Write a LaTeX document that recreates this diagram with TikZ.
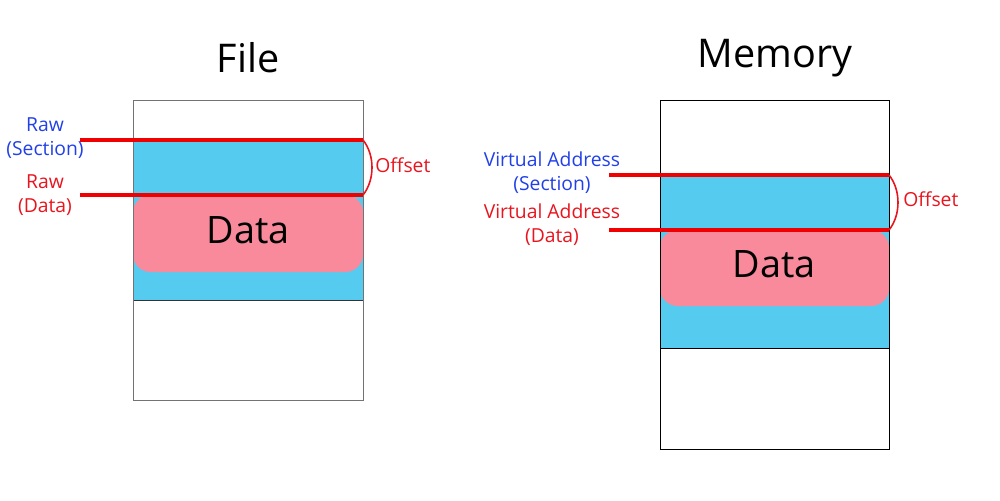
\documentclass[tikz,border=0pt]{standalone}
\usepackage{fontspec}
\setmainfont{Open Sans}
\definecolor{secblue}{HTML}{56CBF0}
\definecolor{datapink}{HTML}{F98A9C}
\definecolor{lblblue}{HTML}{2140E8}
\definecolor{lblred}{HTML}{E8141E}
\definecolor{linered}{HTML}{F00000}
\begin{document}
\begin{tikzpicture}[x=0.02cm,y=-0.02cm,
  title/.style={font=\fontsize{22.5}{26}\selectfont, inner sep=0pt},
  datatext/.style={font=\fontsize{21.5}{25}\selectfont, inner sep=0pt},
  lbl/.style={font=\fontsize{11}{13.6}\selectfont, inner sep=0pt, align=center},
  redline/.style={linered, line width=1.8pt},
  brace/.style={lblred, line width=0.9pt},
  frame/.style={line width=0.55pt}]
\useasboundingbox (0,0) rectangle (1000,500);
% ---------- File ----------
\node[title] (tfile) at (248,58) {File};
\fill[secblue] (133,140) rectangle (363,300);
\fill[datapink, rounded corners=10pt] (133,195) rectangle (363,272);
\node[datatext] (dfile) at (248,230) {Data};
\draw[frame, black!80] (133,300) -- (363,300);
\draw[frame, black!55] (133,100) rectangle (363,400);
\coordinate (fs1) at (80,140); \coordinate (fs2) at (363,140);
\coordinate (fd1) at (80,195); \coordinate (fd2) at (363,195);
\draw[redline] (fs1) -- (fs2);
\draw[redline] (fd1) -- (fd2);
\draw[brace] (fs2) .. controls (375,155) and (375,180) .. (fd2);
\node[lbl, text=lblred, anchor=west] (foff) at (375,165) {Offset};
\node[lbl, text=lblblue] (fsec) at (45,138) {Raw\\(Section)};
\node[lbl, text=lblred] (fdat) at (45,195) {Raw\\(Data)};
% ---------- Memory ----------
\node[title] (tmem) at (775,58) {Memory};
\fill[secblue] (660,175) rectangle (889,348);
\fill[datapink, rounded corners=10pt] (660,230) rectangle (889,306);
\node[datatext] (dmem) at (774,264) {Data};
\draw[frame, black] (660,348) -- (889,348);
\draw[frame, black] (660,100) rectangle (889,449);
\coordinate (ms1) at (609,175); \coordinate (ms2) at (889,175);
\coordinate (md1) at (609,230); \coordinate (md2) at (889,230);
\draw[redline] (ms1) -- (ms2);
\draw[redline] (md1) -- (md2);
\draw[brace] (ms2) .. controls (901,190) and (901,215) .. (md2);
\node[lbl, text=lblred, anchor=west] (moff) at (903,199) {Offset};
\node[lbl, text=lblblue] (msec) at (552,173) {Virtual Address\\(Section)};
\node[lbl, text=lblred] (mdat) at (552,225) {Virtual Address\\(Data)};
\end{tikzpicture}
\end{document}
